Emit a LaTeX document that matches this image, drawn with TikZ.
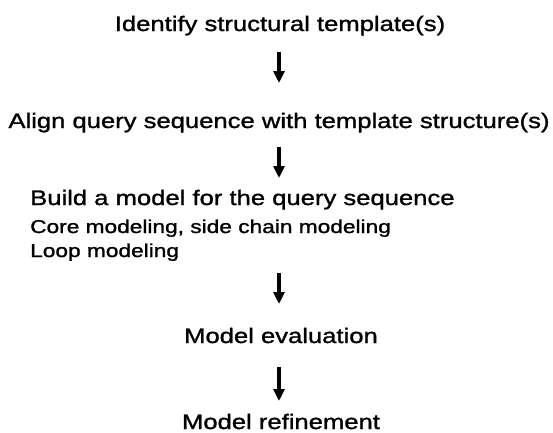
\documentclass[tikz,border=0pt]{standalone}
\usepackage{fontspec}
\setmainfont{Liberation Sans}[FakeStretch=1.22, FakeBold=1.3]
\usetikzlibrary{arrows.meta}

\tikzset{
  mainlabel/.style={anchor=base, inner sep=0pt, font=\fontsize{21}{25}\selectfont},
  leftlabel/.style={anchor=base west, inner sep=0pt, font=\fontsize{21}{25}\selectfont},
  sublabel/.style={anchor=base west, inner sep=0pt, font=\fontsize{18.6}{22}\selectfont},
  flow/.style={line width=4pt, -{Triangle[width=11pt,length=12pt]}, shorten >=-1pt}
}

\begin{document}
\begin{tikzpicture}[x=1pt, y=-1pt]
  \useasboundingbox (0,0) rectangle (553,432);

  % workflow steps
  \node[mainlabel] (identify) at (280,31) {Identify structural template(s)};
  \node[mainlabel] (align) at (279,128) {Align query sequence with template structure(s)};
  \node[leftlabel] (build) at (30,205) {Build a model for the query sequence};
  \node[sublabel] (core) at (30,233) {Core modeling, side chain modeling};
  \node[sublabel] (loop) at (30,257) {Loop modeling};
  \node[mainlabel] (evaluate) at (281,343) {Model evaluation};
  \node[mainlabel] (refine) at (281,429) {Model refinement};

  % arrow end points between the steps
  \coordinate (a1s) at (279,52);  \coordinate (a1e) at (279,82);
  \coordinate (a2s) at (279,147); \coordinate (a2e) at (279,177);
  \coordinate (a3s) at (279,273); \coordinate (a3e) at (279,303);
  \coordinate (a4s) at (279,367); \coordinate (a4e) at (279,400);

  \draw[flow] (a1s) -- (a1e);
  \draw[flow] (a2s) -- (a2e);
  \draw[flow] (a3s) -- (a3e);
  \draw[flow] (a4s) -- (a4e);
\end{tikzpicture}
\end{document}
